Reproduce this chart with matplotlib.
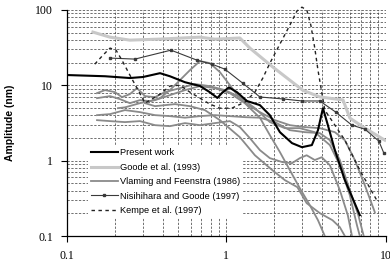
import matplotlib
matplotlib.use("Agg")
import matplotlib.pyplot as plt
from matplotlib.ticker import LogLocator, NullFormatter, FixedFormatter, FixedLocator

# Present work
present_f = [0.100, 0.174, 0.249, 0.301, 0.385, 0.444, 0.552, 0.685, 0.791, 0.882, 0.941, 1.041,
             1.171, 1.35, 1.629, 1.88, 2.175, 2.59, 2.99, 3.45, 3.77, 4.05, 4.35, 4.81, 5.56, 6.90]
present_a = [13.7, 13.2, 12.5, 12.9, 14.5, 13.2, 11.0, 9.8, 8.1, 6.8, 7.9, 9.4,
             8.1, 6.2, 5.46, 4.02, 2.39, 1.71, 1.51, 1.61, 2.54, 4.98, 2.96, 1.38, 0.551, 0.189]

# Goode et al. (1993)
goode_f = [0.146, 0.187, 0.249, 0.385, 0.686, 0.851, 1.22, 1.41, 1.97, 2.51, 3.03, 3.88, 5.41,
           5.98, 7.43, 9.9]
goode_a = [50.9, 43.6, 39.8, 41.1, 43.6, 41.0, 42.5, 31.2, 17.4, 11.7, 8.6, 7.0, 6.4,
           3.67, 2.7, 1.87]

# Vlaming and Feenstra (1986), several curves
vlam1_f = [0.155, 0.174, 0.201, 0.222, 0.249, 0.276, 0.310, 0.358, 0.413, 0.513, 0.637, 0.791,
           0.983, 1.22, 1.516, 1.882, 2.337, 2.90, 3.60, 4.475, 5.17, 5.97, 6.62, 6.90]
vlam1_a = [7.88, 8.64, 8.12, 6.97, 7.64, 9.18, 7.19, 6.97, 8.12, 9.18, 10.4, 9.75,
           8.64, 6.97, 4.98, 3.25, 2.70, 2.70, 2.39, 1.61, 0.871, 0.348, 0.139, 0.100]
vlam2_f = [0.155, 0.187, 0.216, 0.249, 0.288, 0.333, 0.385, 0.444, 0.513, 0.593, 0.685, 0.791,
           0.914, 1.056, 1.22, 1.41, 1.629, 1.882, 2.175, 2.512, 2.90, 3.353, 3.77, 4.16]
vlam2_a = [6.76, 7.19, 6.56, 5.80, 6.36, 6.17, 6.76, 8.64, 11.7, 15.9, 20.96, 19.7,
           15.0, 10.06, 6.76, 4.98, 3.72, 2.18, 1.30, 0.748, 0.431, 0.256, 0.162, 0.100]
vlam3_f = [0.210, 0.232, 0.288, 0.358, 0.444, 0.552, 0.685, 0.851, 1.056, 1.312, 1.629,
           2.023, 2.512, 3.119, 3.873, 4.81, 5.556, 6.419, 7.416, 8.57]
vlam3_a = [4.98, 5.10, 5.80, 6.36, 7.41, 8.64, 9.75, 9.18, 7.87, 5.80, 4.41,
           3.45, 2.96, 2.79, 2.70, 2.39, 1.87, 1.02, 0.473, 0.207]
vlam4_f = [0.155, 0.187, 0.232, 0.288, 0.358, 0.444, 0.552, 0.685, 0.851, 1.056, 1.312, 1.629,
           2.023, 2.512, 3.119, 3.873, 4.475, 5.17, 5.97, 6.75, 7.3]
vlam4_a = [4.02, 4.15, 4.69, 4.41, 4.02, 3.90, 3.72, 3.90, 4.02, 3.90, 3.78, 3.72,
           3.25, 2.54, 2.39, 2.32, 1.87, 1.02, 0.406, 0.189, 0.100]
vlam5_f = [0.155, 0.187, 0.232, 0.288, 0.358, 0.444, 0.552, 0.685, 0.851, 1.056, 1.22, 1.41,
           1.629, 1.882, 2.26, 2.59, 2.90, 3.20, 3.60, 3.98, 4.475, 5.17, 5.80, 6.16]
vlam5_a = [3.45, 3.35, 3.25, 3.35, 2.96, 2.87, 3.15, 2.96, 3.15, 3.35, 2.79, 1.99,
           1.38, 1.08, 0.955, 0.926, 1.08, 1.18, 1.02, 1.11, 0.871, 0.406, 0.189, 0.100]
vlam6_f = [0.310, 0.358, 0.478, 0.593, 0.736, 0.914, 1.22, 1.516, 1.95, 2.337,
           2.80, 3.20, 3.873, 4.65, 5.17, 5.556]
vlam6_a = [5.80, 5.29, 5.63, 5.29, 4.69, 3.45, 2.05, 1.18, 0.748, 0.551,
           0.445, 0.273, 0.201, 0.162, 0.131, 0.100]

# Nisihihara and Goode (1997)
nisi_f = [0.187, 0.268, 0.451, 0.656, 0.815, 0.982, 1.27, 1.63, 2.27, 2.99, 3.87, 4.88,
          6.15, 7.42, 9.08, 9.76]
nisi_a = [23.0, 22.3, 29.3, 21.6, 19.1, 16.4, 10.7, 7.0, 6.6, 6.2, 6.2, 4.4,
          2.96, 2.62, 1.82, 1.26]

# Kempe et al. (1997)
kempe_f = [0.150, 0.169, 0.187, 0.204, 0.222, 0.249, 0.276, 0.310, 0.342, 0.385, 0.444, 0.513,
           0.593, 0.685, 0.791, 0.914, 1.087, 1.312, 1.516, 1.70, 1.882, 2.175, 2.512, 2.78,
           2.99, 3.21, 3.40, 3.60, 3.77, 3.98, 4.16, 4.68, 5.56, 6.90, 8.81]
kempe_a = [19.1, 25.2, 31.2, 29.3, 21.6, 13.7, 9.18, 5.80, 6.56, 7.64, 9.75, 10.06,
           8.12, 6.76, 5.63, 4.98, 4.98, 5.98, 8.12, 12.5, 19.7, 35.3, 63.0, 96.7,
           109, 99.7, 63.0, 31.2, 15.9, 8.12, 4.69, 3.24, 1.87, 0.748, 0.299]

vlam_f = [vlam1_f, vlam2_f, vlam3_f, vlam4_f, vlam5_f, vlam6_f]
vlam_a = [vlam1_a, vlam2_a, vlam3_a, vlam4_a, vlam5_a, vlam6_a]

fig = plt.figure(figsize=(3.9, 2.68), dpi=100)
ax = fig.add_axes([0.171, 0.1194, 0.8175, 0.8433])
ax.set_xscale('log')
ax.set_yscale('log')
ax.set_xlim(0.1, 10)
ax.set_ylim(0.1, 100)

ax.grid(True, which='both', linestyle=(0, (3, 2)), color='#4a4a4a', linewidth=0.55)
ax.set_axisbelow(True)

ax.plot(goode_f, goode_a, color='#c8c8c8', lw=2.2, label='Goode et al. (1993)', zorder=2)
for i, (f, a) in enumerate(zip(vlam_f, vlam_a)):
    ax.plot(f, a, color='#8a8a8a', lw=1.3, zorder=3,
            label='Vlaming and Feenstra (1986)' if i == 0 else None)
ax.plot(nisi_f, nisi_a, color='#3a3a3a', lw=0.8, marker='s', ms=1.6,
        label='Nisihihara and Goode (1997)', zorder=4)
ax.plot(kempe_f, kempe_a, color='#222222', lw=1.0, linestyle=(0, (2.5, 2.5)),
        label='Kempe et al. (1997)', zorder=4, clip_on=False)
ax.plot(present_f, present_a, color='black', lw=1.5, label='Present work', zorder=5)

handles, labels = ax.get_legend_handles_labels()
order = ['Present work', 'Goode et al. (1993)', 'Vlaming and Feenstra (1986)',
         'Nisihihara and Goode (1997)', 'Kempe et al. (1997)']
hmap = dict(zip(labels, handles))
leg = ax.legend([hmap[k] for k in order], order, loc='upper left',
                bbox_to_anchor=(0.067, 0.40), borderaxespad=0, borderpad=0.3,
                frameon=True, fancybox=False, framealpha=1, facecolor='white',
                edgecolor='none', handlelength=2.9, handletextpad=0.25,
                labelspacing=0.58, prop={'family': 'Liberation Sans', 'size': 6.7})
leg.set_zorder(10)

for s in ['top', 'right']:
    ax.spines[s].set_visible(False)
for s in ['left', 'bottom']:
    ax.spines[s].set_linewidth(0.9)

ax.xaxis.set_major_locator(FixedLocator([0.1, 1, 10]))
ax.xaxis.set_major_formatter(FixedFormatter(['0.1', '1', '10']))
ax.yaxis.set_major_locator(FixedLocator([0.1, 1, 10, 100]))
ax.yaxis.set_major_formatter(FixedFormatter(['0.1', '1', '10', '100']))
ax.xaxis.set_minor_locator(LogLocator(base=10, subs=range(2, 10)))
ax.yaxis.set_minor_locator(LogLocator(base=10, subs=range(2, 10)))
ax.xaxis.set_minor_formatter(NullFormatter())
ax.yaxis.set_minor_formatter(NullFormatter())
ax.tick_params(which='major', direction='out', length=4, width=0.8, pad=6)
ax.tick_params(which='minor', length=0)
for lab in ax.get_xticklabels() + ax.get_yticklabels():
    lab.set_fontfamily('Liberation Serif')
    lab.set_fontsize(8.5)

ax.set_ylabel('Amplitude (nm)', fontfamily='Liberation Sans', fontweight='bold',
              fontsize=7.5, labelpad=14)

fig.savefig('out.png', dpi=100)
